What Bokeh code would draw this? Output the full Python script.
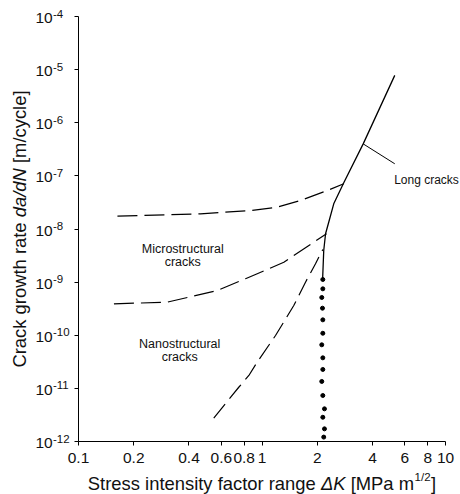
import math
from bokeh.plotting import figure
from bokeh.models import (ColumnDataSource, FixedTicker, CustomJSTickFormatter,
                          Label, LabelSet, Range1d)
from bokeh.core.properties import value
from bokeh.embed import file_html
from bokeh.resources import INLINE

# ---------------- data ----------------
# Long cracks (solid)
long_K = [2.14, 2.17, 2.22, 2.31, 2.46, 2.79, 3.56, 5.29]
long_R = [1.16e-9, 3.94e-9, 8.13e-9, 1.34e-8, 2.98e-8, 7.4e-8, 4.0e-7, 7.8e-6]

# Upper dashed curve
upper_K = [0.163, 0.462, 0.866, 1.21, 1.62, 2.27, 2.79]
upper_R = [1.74e-8, 1.93e-8, 2.23e-8, 2.57e-8, 3.44e-8, 5.31e-8, 7.1e-8]

# Microstructural cracks (dashed)
micro_K = [0.156, 0.304, 0.570, 0.813, 0.942, 1.315, 1.837, 2.247]
micro_R = [3.91e-10, 4.19e-10, 6.95e-10, 1.16e-9, 1.44e-9, 2.37e-9, 5.13e-9, 8.13e-9]

# Nanostructural cracks (dashed)
nano_K = [0.546, 0.747, 0.848, 0.941, 1.185, 1.49, 1.726, 1.957, 2.084, 2.145]
nano_R = [2.75e-12, 1.05e-11, 1.75e-11, 3.11e-11, 9.89e-11, 3.63e-10, 9.98e-10,
          2.21e-9, 3.41e-9, 4.11e-9]

# Threshold (dotted)
thresh_K = [2.145, 2.145, 2.117, 2.136, 2.145, 2.145, 2.117, 2.145, 2.145, 2.117,
            2.145, 2.19, 2.145, 2.19, 2.17]
thresh_R = [1.12e-9, 7.48e-10, 5.14e-10, 3.23e-10, 1.95e-10, 1.09e-10, 6.61e-11,
            3.76e-11, 2.27e-11, 1.35e-11, 7.34e-12, 4.12e-12, 2.86e-12, 1.73e-12,
            1.21e-12]

# Leader line for "Long cracks"
leader_K = [3.56, 5.29]
leader_R = [4.0e-7, 1.69e-7]

# Annotations
long_label = "Long cracks"
long_label_K = 5.25
long_label_R = 8.2e-8
ann_text = ["Microstructural", "cracks", "Nanostructural", "cracks"]
ann_K = [0.370, 0.370, 0.356, 0.356]
ann_R = [4.24e-9, 2.37e-9, 6.9e-11, 3.86e-11]

# Ticks
x_ticks = [0.1, 0.2, 0.4, 0.6, 0.8, 1, 2, 4, 6, 8, 10]
x_tick_labels = ["0.1", "0.2", "0.4", "0.6", "0.8", "1", "2", "4", "6", "8", "10"]
y_ticks = [1e-12, 1e-11, 1e-10, 1e-9, 1e-8, 1e-7, 1e-6, 1e-5, 1e-4]
y_tick_base = ["10"] * 9
y_tick_exp = ["-12", "-11", "-10", "-9", "-8", "-7", "-6", "-5", "-4"]

FONT = "Liberation Sans"
W_PX, H_PX = 460, 494

# Pixel layout of the axes box (canvas px) and scale (px per decade)
FL, FR, FT, FB = 78, 445, 16, 441
XDEC = (FR - FL) / 2.0     # x: 0.1 .. 10 -> 2 decades
YDEC = (FB - FT) / 8.0     # y: 1e-12 .. 1e-4 -> 8 decades
x_lo = 10 ** (-1 - FL / XDEC)
x_hi = 10 ** (1 + (W_PX - FR) / XDEC)
y_hi = 10 ** (-4 + FT / YDEC)
y_lo = 10 ** (-12 - (H_PX - FB) / YDEC)

# ---------------- figure (frame covers the whole canvas) ----------------
p = figure(width=W_PX, height=H_PX, x_axis_type="log", y_axis_type="log",
           x_range=Range1d(x_lo, x_hi), y_range=Range1d(y_lo, y_hi),
           output_backend="svg", toolbar_location=None,
           min_border_left=0, min_border_right=0, min_border_top=0,
           min_border_bottom=0)
p.xgrid.visible = False
p.ygrid.visible = False
p.outline_line_color = None
p.background_fill_color = "white"
p.border_fill_color = "white"

fmt_code = """
for (let i = 0; i < tvals.length; i++) {
  if (Math.abs(Math.log10(tick) - Math.log10(tvals[i])) < 1e-6) return labels[i];
}
return "";
"""
p.xaxis.ticker = FixedTicker(ticks=x_ticks, minor_ticks=[])
p.yaxis.ticker = FixedTicker(ticks=y_ticks, minor_ticks=[])
p.xaxis.formatter = CustomJSTickFormatter(args=dict(tvals=x_ticks, labels=x_tick_labels), code=fmt_code)
p.yaxis.formatter = CustomJSTickFormatter(args=dict(tvals=y_ticks, labels=[""] * 9), code=fmt_code)
p.xaxis.fixed_location = y_ticks[0]
p.yaxis.fixed_location = x_ticks[0]
p.xaxis.bounds = (x_ticks[0], x_ticks[-1])
p.yaxis.bounds = (y_ticks[0], y_ticks[-1])

for ax in (p.xaxis, p.yaxis):
    ax.axis_line_color = "black"
    ax.axis_line_width = 1
    ax.major_tick_line_color = "black"
    ax.major_tick_in = 0
    ax.major_tick_out = 4
    ax.minor_tick_in = 0
    ax.minor_tick_out = 0
    ax.major_label_text_font = FONT
    ax.major_label_text_font_size = "15.5px"
    ax.major_label_text_color = "#111111"
p.xaxis.major_label_standoff = 7

# y tick labels: "10" with raised exponent
ysrc = ColumnDataSource(dict(y=y_ticks, base=y_tick_base, exp=y_tick_exp))
p.add_layout(LabelSet(x=35, y="y", x_units="screen", y_units="data", text="base",
                      source=ysrc, text_font=value(FONT), text_font_size="15.5px",
                      text_align="left", text_baseline="middle", y_offset=-1.5,
                      text_color="#111111"))
p.add_layout(LabelSet(x=52.5, y="y", x_units="screen", y_units="data", text="exp",
                      source=ysrc, text_font=value(FONT), text_font_size="11.5px",
                      text_align="left", text_baseline="middle", y_offset=3,
                      text_color="#111111"))

# ---------------- curves ----------------
p.line(long_K, long_R, line_color="black", line_width=1.3)
p.line(upper_K, upper_R, line_color="black", line_width=1.2, line_dash="20 7")
p.line(micro_K, micro_R, line_color="black", line_width=1.2, line_dash="20 7")
p.line(nano_K, nano_R, line_color="black", line_width=1.2, line_dash="18 7")
p.scatter(thresh_K, thresh_R, size=4, color="black")
p.line(leader_K, leader_R, line_color="black", line_width=1)

# ---------------- annotations ----------------
p.add_layout(Label(x=long_label_K, y=long_label_R, text=long_label, text_font=FONT,
                   text_font_size="12px", text_align="left", text_baseline="middle",
                   text_color="#111111"))
ann_src = ColumnDataSource(dict(x=ann_K, y=ann_R, t=ann_text))
p.add_layout(LabelSet(x="x", y="y", text="t", source=ann_src, text_font=value(FONT),
                      text_font_size="12.5px", text_align="center", text_baseline="middle",
                      text_color="#111111"))

# ---------------- axis titles (mixed styles) ----------------
W = {' ': 278, 'S': 667, 't': 278, 'r': 333, 'e': 556, 's': 500, 'i': 222, 'n': 556,
     'y': 500, 'f': 278, 'a': 556, 'c': 500, 'o': 556, 'g': 556, '\u0394': 668, 'K': 667,
     '[': 278, 'M': 833, 'P': 667, 'm': 833, '1': 556, '/': 278, '2': 556, ']': 278,
     'C': 722, 'k': 500, 'w': 722, 'h': 556, 'd': 556, 'N': 722, 'l': 222, 'u': 556}


def tw(s, size):
    return sum(W.get(c, 556) for c in s) * size / 1000.0


TS = 18.4
SP = 278 * TS / 1000.0
# (text, style, size, rise, gap after)
x_pieces = [("Stress intensity factor range", "normal", TS, 0, SP),
            ("\u0394K", "italic", TS, 0, SP),
            ("[MPa m", "normal", TS, 0, 0.5),
            ("1/2", "normal", 11.5, 6.5, 0.5),
            ("]", "normal", TS, 0, 0)]
total = sum(tw(s, sz) + g for s, _, sz, _, g in x_pieces)
cx = (FL + FR) / 2 - total / 2
mid_y = 483
for s, style, sz, rise, g in x_pieces:
    p.add_layout(Label(x=cx, y=H_PX - (mid_y - rise), x_units="screen", y_units="screen",
                       text=s, text_font=FONT, text_font_size=f"{sz}px", text_font_style=style,
                       text_align="left", text_baseline="middle", text_color="#111111"))
    cx += tw(s, sz) + g

y_pieces = [("Crack growth rate", "normal", TS, SP),
            ("da/dN", "italic", TS, SP),
            ("[m/cycle]", "normal", TS, 0)]
total = sum(tw(s, sz) + g for s, _, sz, g in y_pieces)
cy = (FT + FB) / 2 + total / 2
mid_x = 19
for s, style, sz, g in y_pieces:
    p.add_layout(Label(x=mid_x, y=H_PX - cy, x_units="screen", y_units="screen",
                       text=s, text_font=FONT, text_font_size=f"{sz}px", text_font_style=style,
                       text_align="left", text_baseline="middle", angle=math.pi / 2,
                       text_color="#111111"))
    cy -= tw(s, sz) + g

open("out.html", "w").write(file_html(p, INLINE))
